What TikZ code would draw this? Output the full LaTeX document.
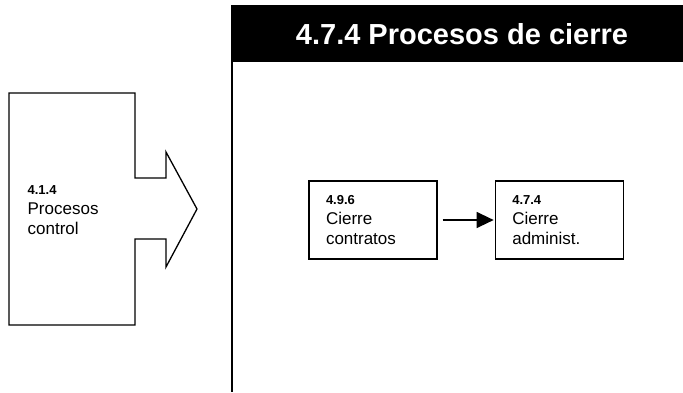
\documentclass[tikz,border=0pt]{standalone}
\usepackage{fontspec}
\setmainfont{Liberation Sans}
\usetikzlibrary{arrows.meta}
\usetikzlibrary{positioning}

\newcommand{\codenum}[1]{{\fontsize{13}{15}\selectfont\bfseries #1}}

\begin{document}
\begin{tikzpicture}[x=1pt,y=-1pt,-,>={Triangle[length=17pt,width=16pt]},auto,line width=1.3pt,
                    proc node/.style={rectangle,draw,minimum width=128pt,minimum height=78pt,
                      text width=94pt,inner xsep=17pt,align=left,font=\fontsize{17}{20}\selectfont}]
  \useasboundingbox (0,0) rectangle (683,392);

  % left block with arrow
  \draw (9,93) -- (135,93) -- (135,178) -- (166,178) -- (166,152) -- (197,209)
        -- (166,267) -- (166,239) -- (135,239) -- (135,325) -- (9,325) -- cycle;
  \node[anchor=north west,inner sep=0pt,align=left,font=\fontsize{17}{20}\selectfont]
       (ctrl) at (27,185) {\codenum{4.1.4}\\Procesos\\control};

  % panel with header
  \fill (232,5) rectangle (683,62);
  \draw (232,5) -- (232,392);
  \node[text=white,font=\fontsize{29}{31}\selectfont\bfseries] (title) at (462,34)
       {4.7.4 Procesos de cierre};

  \node[proc node] (1) at (373,220) {\codenum{4.9.6}\\Cierre\\contratos};
  \node[proc node] (2) [right=57pt of 1] {\codenum{4.7.4}\\Cierre\\administ.};

  \path[->,shorten <=5pt,shorten >=1pt]
    (1) edge (2)
;
\end{tikzpicture}
\end{document}
